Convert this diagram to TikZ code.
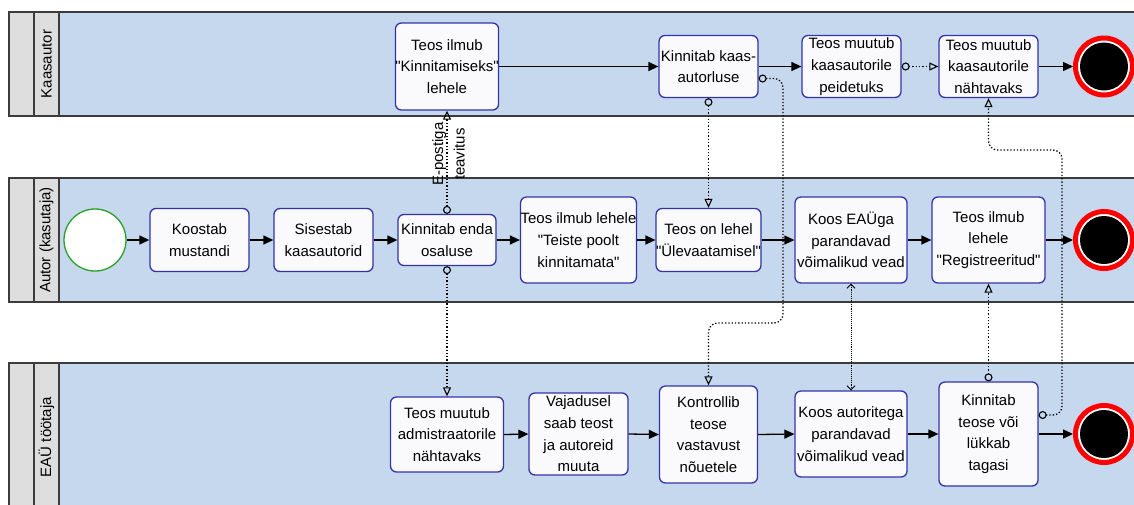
\documentclass[tikz,border=0pt]{standalone}
\usepackage{fontspec}
\setmainfont{Liberation Sans}
\newfontfamily\diafont{Liberation Sans}
\usetikzlibrary{arrows.meta}
\definecolor{lanefill}{RGB}{197,216,237}
\definecolor{headfill}{RGB}{222,222,222}
\definecolor{laneline}{RGB}{60,60,60}
\definecolor{taskborder}{RGB}{51,51,170}
\definecolor{taskfill}{RGB}{250,250,252}
\definecolor{startgreen}{RGB}{40,160,40}
\definecolor{endred}{RGB}{255,0,0}
\begin{document}
\begin{tikzpicture}[x=1pt,y=-1pt,
  txt/.style={font=\diafont\fontsize{15pt}{21.7pt}\selectfont, align=center, inner sep=0pt},
  task/.style={txt, draw=taskborder, fill=taskfill, line width=1.3pt, rounded corners=6pt},
  lanelabel/.style={txt, rotate=90},
  laneedge/.style={draw=laneline, line width=1.8pt},
  seq/.style={line width=1.3pt, -{Triangle[length=10pt,width=9pt]}},
  msg/.style={line width=1.3pt, dash pattern=on 1.3pt off 2pt, rounded corners=9pt,
    {Circle[open,length=8pt,width=8pt,line width=1.1pt]}-{Triangle[open,length=9pt,width=8pt,line width=1.1pt]}},
  assoc/.style={line width=0.8pt, dash pattern=on 0.9pt off 1pt,
    {Straight Barb[length=4pt,width=8pt,line width=0.9pt]}-{Straight Barb[length=4pt,width=8pt,line width=0.9pt]}},
  startev/.style={circle, draw=startgreen, fill=white, line width=1.3pt, minimum size=62pt, inner sep=0pt},
  endev/.style={circle, draw=endred, fill=white, line width=5pt, minimum size=57pt, inner sep=0pt,
    path picture={\fill[black] (path picture bounding box.center) circle (24pt);}}
]
\useasboundingbox (0,0) rectangle (1134,504);
\clip (0,0) rectangle (1134,504);
\fill[white] (0,0) rectangle (1134,504);

% ---- lanes ----
\foreach \t/\b in {12/116, 178/302, 363/560}{
  \fill[lanefill] (59,\t) rectangle (1150,\b);
  \fill[headfill] (9,\t) rectangle (59,\b);
  \draw[laneedge] (1150,\t) -- (9,\t) -- (9,\b) -- (1150,\b);
  \draw[laneedge] (34,\t) -- (34,\b);
  \draw[laneedge] (59,\t) -- (59,\b);
}
\node[lanelabel] (L1) at (46.5,64) {Kaasautor};
\node[lanelabel] (L2) at (46.5,240) {Autor (kasutaja)};
\node[lanelabel] (L3) at (46.5,437) {EAÜ töötaja};

% ---- top lane ----
\node[task, minimum width=98pt, minimum height=87pt] (A1) at (447,66.5) {Teos ilmub\\"Kinnitamiseks"\\lehele};
\node[task, minimum width=99pt, minimum height=62pt] (A2) at (708.5,66.5) {Kinnitab kaas-\\autorluse};
\node[task, minimum width=99pt, minimum height=62pt] (A3) at (851.5,66.5) {Teos muutub\\kaasautorile\\peidetuks};
\node[task, minimum width=99pt, minimum height=62pt] (A4) at (988.5,66.5) {Teos muutub\\kaasautorile\\nähtavaks};
\node[endev] (E1) at (1104,66.5) {};

% ---- middle lane ----
\node[startev] (S) at (95,240) {};
\node[task, minimum width=99pt, minimum height=63pt] (B1) at (199.5,240) {Koostab\\mustandi};
\node[task, minimum width=99pt, minimum height=63pt] (B2) at (323.5,240) {Sisestab\\kaasautorid};
\node[task, minimum width=98pt, minimum height=51pt] (B3) at (447,240) {Kinnitab enda\\osaluse};
\node[task, minimum width=113pt, minimum height=86pt] (B4) at (578.5,240) {Teos ilmub lehele\\"Teiste poolt\\kinnitamata"};
\node[task, minimum width=99pt, minimum height=63pt] (B5) at (708.5,240) {Teos on lehel\\"Ülevaatamisel"};
\node[task, minimum width=112pt, minimum height=86pt] (B6) at (851,240) {Koos EAÜga\\parandavad\\võimalikud vead};
\node[task, minimum width=113pt, minimum height=86pt] (B7) at (988.5,240) {Teos ilmub\\lehele\\"Registreeritud"};
\node[endev] (E2) at (1104,240) {};

% ---- bottom lane ----
\node[task, minimum width=113pt, minimum height=75pt] (C1) at (447,434.5) {Teos muutub\\admistraatorile\\nähtavaks};
\node[task, minimum width=99pt, minimum height=82pt] (C2) at (578.5,434) {Vajadusel\\saab teost\\ja autoreid\\muuta};
\node[task, minimum width=98pt, minimum height=97pt] (C3) at (708.5,434.5) {Kontrollib\\teose\\vastavust\\nõuetele};
\node[task, minimum width=112pt, minimum height=86pt] (C4) at (851,434) {Koos autoritega\\parandavad\\võimalikud vead};
\node[task, minimum width=99pt, minimum height=104pt] (C5) at (988.5,434) {Kinnitab\\teose või\\lükkab\\tagasi};
\node[endev] (E3) at (1104,434) {};

% ---- sequence flows ----
\draw[seq] (A1.east) -- (A2.west);
\draw[seq] (A2.east) -- (A3.west);
\draw[seq] (A4.east) -- (E1.west);
\draw[seq] (S.east) -- (B1.west);
\draw[seq] (B1.east) -- (B2.west);
\draw[seq] (B2.east) -- (B3.west);
\draw[seq] (B3.east) -- (B4.west);
\draw[seq] (B4.east) -- (B5.west);
\draw[seq] (B5.east) -- (B6.west);
\draw[seq] (B6.east) -- (B7.west);
\draw[seq] (B7.east) -- (E2.west);
\draw[seq] (C1.east) -- (C2.west);
\draw[seq] (C2.east) -- (C3.west);
\draw[seq] (C3.east) -- (C4.west);
\draw[seq] (C4.east) -- (C5.west);
\draw[seq] (C5.east) -- (E3.west);

% ---- message flows ----
\coordinate (r1) at (783,323);
\coordinate (r2) at (1062,150);
\draw[msg] (A3.east) -- (A4.west);
\draw[msg] (B3.north) -- (A1.south);
\draw[msg] (A2.south) -- (B5.north);
\draw[msg] (B3.south) -- (C1.north);
\draw[msg] (C5.north) -- (B7.south);
\draw[msg] ([yshift=-12pt]A2.east) -| (r1) -| (C3.north);
\draw[msg] ([yshift=19pt]C5.east) -| (r2) -| (A4.south);
\draw[assoc] (B6.south) -- (C4.north);

\node[txt, rotate=90] (lab) at (448.5,154) {E-postiga\\teavitus};
\end{tikzpicture}
\end{document}
